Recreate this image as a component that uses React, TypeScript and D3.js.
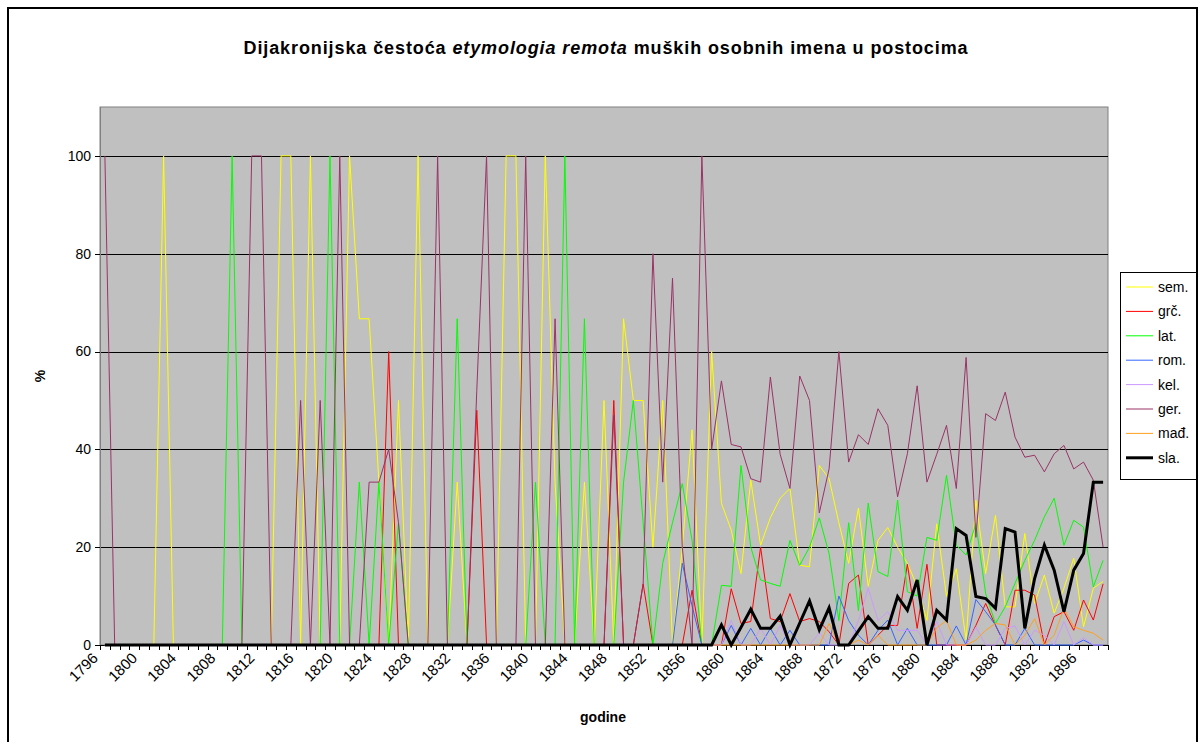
import React from "react";
import * as d3 from "d3";

const years = [
  1796, 1797, 1798, 1799, 1800, 1801, 1802, 1803, 1804, 1805,
  1806, 1807, 1808, 1809, 1810, 1811, 1812, 1813, 1814, 1815,
  1816, 1817, 1818, 1819, 1820, 1821, 1822, 1823, 1824, 1825,
  1826, 1827, 1828, 1829, 1830, 1831, 1832, 1833, 1834, 1835,
  1836, 1837, 1838, 1839, 1840, 1841, 1842, 1843, 1844, 1845,
  1846, 1847, 1848, 1849, 1850, 1851, 1852, 1853, 1854, 1855,
  1856, 1857, 1858, 1859, 1860, 1861, 1862, 1863, 1864, 1865,
  1866, 1867, 1868, 1869, 1870, 1871, 1872, 1873, 1874, 1875,
  1876, 1877, 1878, 1879, 1880, 1881, 1882, 1883, 1884, 1885,
  1886, 1887, 1888, 1889, 1890, 1891, 1892, 1893, 1894, 1895,
  1896, 1897, 1898,
];

const sem = [
  0, 0, 0, 0, 0, 0, 100, 0, 0, 0,
  0, 0, 0, 0, 0, 0, 0, 0, 100, 100,
  0, 100, 0, 0, 0, 100, 66.7, 66.7, 33.3, 0,
  50, 0, 100, 0, 0, 0, 33.3, 0, 0, 0,
  0, 100, 100, 0, 0, 100, 33.3, 0, 0, 33.3,
  0, 50, 0, 66.7, 50, 50, 20, 50, 0, 20,
  44, 0, 60, 29, 23.5, 14.6, 33.7, 20.4, 26, 30,
  32, 16.3, 16, 36.7, 34, 25, 16.7, 28, 12, 21.4,
  24, 20, 16.7, 12, 5, 24.8, 9.9, 15.6, 1, 29.6,
  14.6, 26.5, 7.8, 7.8, 22.8, 8.5, 14.3, 6.5, 11.6, 17.7,
  3.7, 11.6, 13,
];

const grc = [
  0, 0, 0, 0, 0, 0, 0, 0, 0, 0,
  0, 0, 0, 0, 0, 0, 0, 0, 0, 0,
  0, 0, 0, 0, 0, 0, 0, 0, 0, 60,
  0, 0, 0, 0, 0, 0, 0, 0, 48, 0,
  0, 0, 0, 0, 0, 0, 0, 0, 0, 0,
  0, 0, 50, 0, 0, 12.5, 0, 0, 0, 0,
  11.2, 0, 0, 0, 11.5, 4.4, 4.8, 20, 5.4, 4.8,
  10.5, 4.8, 5.4, 4.8, 2.7, 0, 12.6, 14.3, 0, 2,
  4, 4, 16.5, 3.4, 16.5, 0, 0, 0, 0, 4,
  8.5, 4, 0, 11.2, 11.2, 10.2, 0, 5.8, 6.8, 3,
  9.2, 5.1, 12.5,
];

const lat = [
  0, 0, 0, 0, 0, 0, 0, 0, 0, 0,
  0, 0, 0, 100, 0, 0, 0, 0, 0, 0,
  0, 0, 0, 100, 0, 0, 33.3, 0, 33.3, 0,
  25, 0, 0, 0, 0, 0, 66.7, 0, 0, 0,
  0, 0, 0, 0, 33.3, 0, 0, 100, 0, 66.7,
  0, 0, 0, 33.3, 50, 25, 0, 16.7, 25, 33,
  21.4, 0, 0, 12.2, 12, 36.7, 20, 13.3, 12.6, 12,
  21.4, 16.3, 20, 26, 18.7, 5, 25, 7, 29, 15,
  14, 29.6, 10.9, 10, 22, 21.4, 34.7, 20.4, 18.4, 24.8,
  10.5, 4.4, 7.8, 12.6, 17.3, 21.4, 26.2, 30, 20.4, 25.5,
  24.1, 11.9, 17.3,
];

const rom = [
  0, 0, 0, 0, 0, 0, 0, 0, 0, 0,
  0, 0, 0, 0, 0, 0, 0, 0, 0, 0,
  0, 0, 0, 0, 0, 0, 0, 0, 0, 0,
  0, 0, 0, 0, 0, 0, 0, 0, 0, 0,
  0, 0, 0, 0, 0, 0, 0, 0, 0, 0,
  0, 0, 0, 0, 0, 0, 0, 0, 0, 16.7,
  8, 0, 0, 0, 4, 0, 3.4, 0, 3.4, 0,
  3, 0, 0, 0, 0, 10, 5, 2, 0, 3,
  5.1, 0, 3.4, 0, 0, 0, 0, 3.9, 0, 9.3,
  6.8, 4.1, 0, 0, 3.4, 0, 0, 0, 0, 0,
  1, 0, 0,
];

const kel = [
  0, 0, 0, 0, 0, 0, 0, 0, 0, 0,
  0, 0, 0, 0, 0, 0, 0, 0, 0, 0,
  0, 0, 0, 0, 0, 0, 0, 0, 0, 0,
  0, 0, 0, 0, 0, 0, 0, 0, 0, 0,
  0, 0, 0, 0, 0, 0, 0, 0, 0, 0,
  0, 0, 0, 0, 0, 0, 0, 0, 0, 0,
  0, 0, 0, 0, 5, 0, 0, 3.4, 0, 4,
  0, 0, 0, 2.5, 0, 0, 0, 5, 11.6, 5,
  6.8, 3, 3, 3, 0, 4.8, 0, 0, 0, 3.7,
  0, 0, 3.4, 3.9, 0, 3, 2, 0, 4.8, 0,
  1.5, 0, 0,
];

const ger = [
  100, 0, 0, 0, 0, 0, 0, 0, 0, 0,
  0, 0, 0, 0, 0, 100, 100, 0, 0, 0,
  50, 0, 50, 0, 100, 0, 0, 33.3, 33.3, 40,
  25, 0, 0, 0, 100, 0, 0, 0, 52, 100,
  0, 0, 0, 100, 0, 0, 66.7, 0, 0, 0,
  0, 0, 47, 0, 0, 12.5, 80, 33.3, 75, 20,
  0, 100, 40, 54, 41, 40.5, 34, 33.3, 54.8, 39,
  32, 55, 50, 27, 36, 60, 37.4, 43, 41, 48.3,
  44.9, 30.3, 39.1, 53, 33.3, 39, 44.9, 32, 58.8, 22,
  47.3, 45.9, 51.7, 42.5, 38.4, 38.8, 35.4, 39.1, 40.8, 36,
  37.4, 33.7, 20,
];

const mad = [
  0, 0, 0, 0, 0, 0, 0, 0, 0, 0,
  0, 0, 0, 0, 0, 0, 0, 0, 0, 0,
  0, 0, 0, 0, 0, 0, 0, 0, 0, 0,
  0, 0, 0, 0, 0, 0, 0, 0, 0, 0,
  0, 0, 0, 0, 0, 0, 0, 0, 0, 0,
  0, 0, 0, 0, 0, 0, 0, 0, 0, 0,
  0, 0, 0, 0, 0, 0, 0, 0, 0, 0,
  0, 0, 0, 0, 4.4, 0, 0, 1, 0, 2,
  0, 0, 0, 0, 0, 3.5, 5, 0, 0, 1,
  3, 4.4, 4.1, 0, 2, 5.4, 0, 2, 7.5, 3.7,
  3, 2.4, 1,
];

const sla = [
  0, 0, 0, 0, 0, 0, 0, 0, 0, 0,
  0, 0, 0, 0, 0, 0, 0, 0, 0, 0,
  0, 0, 0, 0, 0, 0, 0, 0, 0, 0,
  0, 0, 0, 0, 0, 0, 0, 0, 0, 0,
  0, 0, 0, 0, 0, 0, 0, 0, 0, 0,
  0, 0, 0, 0, 0, 0, 0, 0, 0, 0,
  0, 0, 0, 4.1, 0, 3.6, 7.3, 3.4, 3.4, 5.9,
  0, 4.5, 9, 3.1, 7.6, 0, 0, 2.9, 5.8, 3.4,
  3.4, 9.9, 7.1, 13.3, 0, 7.1, 5.1, 23.8, 22.4, 9.9,
  9.5, 7.5, 23.8, 23.1, 3.4, 13.6, 20.4, 15.3, 6.8, 15.3,
  18.7, 33.3, 33.3,
];

const seriesNames = ["sem.", "grč.", "lat.", "rom.", "kel.", "ger.", "mađ.", "sla."];
const seriesValues = [sem, grc, lat, rom, kel, ger, mad, sla];
const seriesColors = ["#FFFF00", "#FF0000", "#00FF00", "#3366FF", "#CC99FF", "#993366", "#FFA020", "#000000"];
const seriesWidths = [1, 1, 1, 1, 1, 1, 1, 3];

const yTicks = [0, 20, 40, 60, 80, 100];
const gridValues = [20, 40, 60, 80, 100];

const FONT = "'Liberation Sans', Arial, sans-serif";

export default function App() {
  const W = 1200;
  const H = 742;
  const left = 100;
  const right = 1108;
  const top = 107;
  const bottom = 645;

  const x = d3.scaleBand<number>().domain(years).range([left, right]).paddingInner(0).paddingOuter(0);
  const bw = x.bandwidth();
  const cx = (yr: number) => (x(yr) as number) + bw / 2;
  const y = d3.scaleLinear().domain([0, 110]).range([bottom, top]);

  const lineGen = d3
    .line<number>()
    .x((_, i) => cx(years[i]))
    .y((d) => y(d));

  const boundaries = years.map((yr) => x(yr) as number).concat([right]);
  const labelYears = years.filter((_, i) => i % 4 === 0);

  const legX = 1120;
  const legY = 272;
  const legW = 76;
  const legH = 207;
  const legRow = 24.4;

  return (
    <div style={{ position: "absolute", left: 0, top: 0, width: W, height: H, background: "#fff" }}>
      <svg width={W} height={H} style={{ display: "block", fontFamily: FONT }}>
        <rect x={0} y={0} width={W} height={H} fill="#fff" />
        <rect x={8} y={8} width={1189} height={744} fill="none" stroke="#000" strokeWidth={2} />

        <text x={606} y={54} textAnchor="middle" fontSize={18} fontWeight="bold" letterSpacing={0.9} fill="#000">
          <tspan>Dijakronijska čestoća </tspan>
          <tspan fontStyle="italic">etymologia remota</tspan>
          <tspan> muških osobnih imena u postocima</tspan>
        </text>

        <rect x={left} y={top} width={right - left} height={bottom - top} fill="#C0C0C0" stroke="#808080" strokeWidth={1} />

        {gridValues.map((v) => (
          <line key={v} x1={left} x2={right} y1={Math.round(y(v)) + 0.5} y2={Math.round(y(v)) + 0.5} stroke="#000" strokeWidth={1} />
        ))}

        <line x1={left + 0.5} x2={left + 0.5} y1={top} y2={bottom} stroke="#808080" strokeWidth={1} />
        <line x1={left} x2={right} y1={bottom + 0.5} y2={bottom + 0.5} stroke="#000" strokeWidth={1} />

        {yTicks.map((v) => (
          <g key={v}>
            <line x1={left - 5} x2={left} y1={Math.round(y(v)) + 0.5} y2={Math.round(y(v)) + 0.5} stroke="#000" strokeWidth={1} />
            <text x={left - 9} y={y(v)} dy="0.35em" textAnchor="end" fontSize={14} fill="#000">
              {v}
            </text>
          </g>
        ))}

        {boundaries.map((bx, i) => (
          <line key={i} x1={Math.round(bx) + 0.5} x2={Math.round(bx) + 0.5} y1={bottom} y2={bottom + 5} stroke="#000" strokeWidth={1} />
        ))}

        {labelYears.map((yr) => (
          <text
            key={yr}
            transform={`translate(${cx(yr) - 6},${bottom + 14}) rotate(-45)`}
            textAnchor="end"
            fontSize={15}
            fill="#000"
          >
            {yr}
          </text>
        ))}

        <text x={603} y={722} textAnchor="middle" fontSize={14} fontWeight="bold" fill="#000">
          godine
        </text>
        <text transform={`translate(45,376) rotate(-90)`} textAnchor="middle" fontSize={14} fontWeight="bold" fill="#000">
          %
        </text>

        <g>
          {seriesValues.map((vals, s) => (
            <path
              key={seriesNames[s]}
              d={lineGen(vals) || ""}
              fill="none"
              stroke={seriesColors[s]}
              strokeWidth={seriesWidths[s]}
              strokeLinejoin="miter"
            />
          ))}
        </g>

        <rect x={legX + 0.5} y={legY + 0.5} width={legW} height={legH} fill="#fff" stroke="#000" strokeWidth={1} />
        {seriesNames.map((name, s) => {
          const ly = legY + 15 + s * legRow;
          return (
            <g key={name}>
              <line x1={legX + 6} x2={legX + 33} y1={ly} y2={ly} stroke={seriesColors[s]} strokeWidth={seriesWidths[s]} />
              <text x={legX + 38} y={ly} dy="0.35em" fontSize={14} fill="#000">
                {name}
              </text>
            </g>
          );
        })}
      </svg>
    </div>
  );
}
